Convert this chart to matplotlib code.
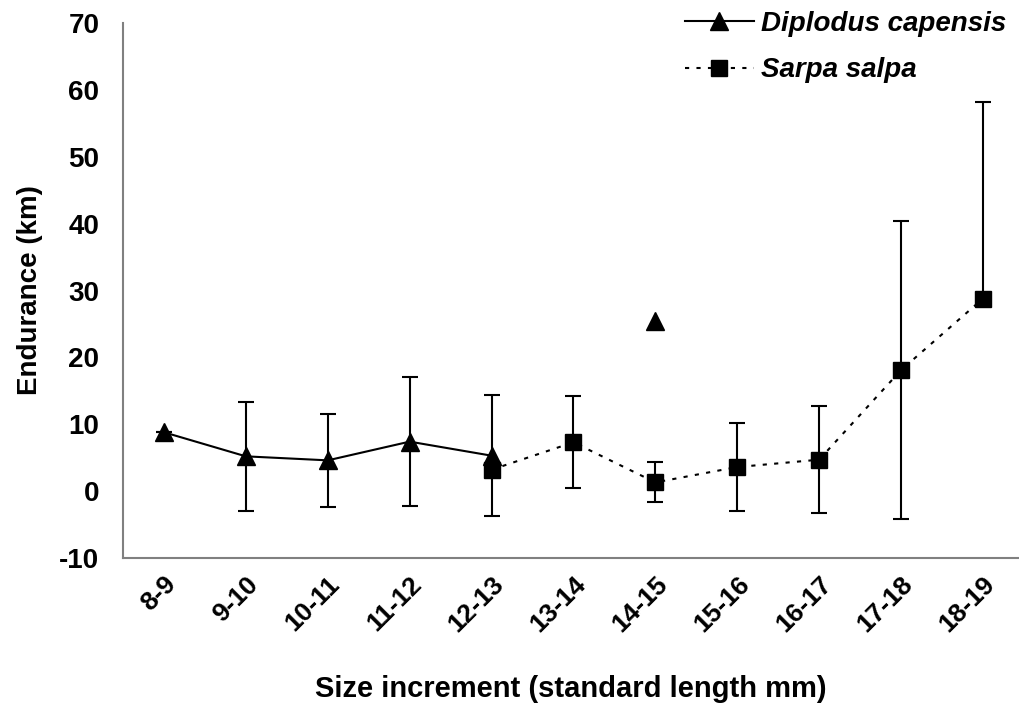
import matplotlib.pyplot as plt
import numpy as np

# size classes (standard length, mm)
sizes = ['8-9', '9-10', '10-11', '11-12', '12-13', '13-14',
         '14-15', '15-16', '16-17', '17-18', '18-19']

# Diplodus capensis: connected run 8-9..12-13, lone point at 14-15
dc_idx = [0, 1, 2, 3, 4]
dc_mean = [8.8, 5.2, 4.6, 7.4, 5.3]
dc_err = [0, 8.2, 7.0, 9.7, 9.0]
dc_lone_idx = [6]
dc_lone_mean = [25.4]

# Sarpa salpa
ss_idx = [4, 5, 6, 7, 8, 9, 10]
ss_mean = [3.2, 7.3, 1.3, 3.6, 4.7, 18.1, 28.8]
ss_err_lo = [0, 6.9, 3.0, 6.6, 8.0, 22.3, 0]
ss_err_hi = [0, 6.9, 3.0, 6.6, 8.0, 22.3, 29.4]

plt.rcParams['font.family'] = ['Liberation Sans', 'DejaVu Sans']
plt.rcParams['axes.unicode_minus'] = False

fig = plt.figure(figsize=(10.19, 7.17), dpi=100)
ax = fig.add_axes([0.1207, 0.2218, 0.8793, 0.746])

# error bars (Diplodus)
ax.errorbar(dc_idx, dc_mean, yerr=dc_err, fmt='none', ecolor='black',
            elinewidth=1.5, capsize=5.5, capthick=1.5, zorder=2)
# error bars (Sarpa)
ax.errorbar(ss_idx, ss_mean, yerr=[ss_err_lo, ss_err_hi], fmt='none',
            ecolor='black', elinewidth=1.5, capsize=5.5, capthick=1.5, zorder=2)

ax.plot(ss_idx, ss_mean, color='black', linestyle=(0, (2, 3.5)), linewidth=1.5,
        marker='s', markersize=11, zorder=3, label='Sarpa salpa')
ax.plot(dc_idx, dc_mean, color='black', linestyle='-', linewidth=1.5,
        marker='^', markersize=13, zorder=4, label='Diplodus capensis')
ax.plot(dc_lone_idx, dc_lone_mean, color='black', linestyle='none',
        marker='^', markersize=13, zorder=4)

ax.set_xlim(-0.5, 10.44)
ax.set_ylim(-10, 70)
ax.set_yticks(np.arange(-10, 71, 10))
ax.set_xticks(range(len(sizes)))
ax.set_xticklabels(sizes, rotation=45, ha='right', rotation_mode='anchor')

ax.tick_params(axis='both', length=0, labelsize=20)
ax.tick_params(axis='x', labelsize=19)
ax.tick_params(axis='y', pad=17)
ax.tick_params(axis='x', pad=10)
for lab in ax.get_xticklabels() + ax.get_yticklabels():
    lab.set_fontweight('bold')

for s in ['top', 'right']:
    ax.spines[s].set_visible(False)
for s in ['left', 'bottom']:
    ax.spines[s].set_color('#808080')
    ax.spines[s].set_linewidth(1.5)

ax.set_xlabel('Size increment (standard length mm)', fontsize=21,
              fontweight='bold', labelpad=28)
ax.set_ylabel('Endurance (km)', fontsize=20, fontweight='bold', labelpad=12)

h, l = ax.get_legend_handles_labels()
leg = fig.legend(h[::-1], l[::-1], loc='upper right', bbox_to_anchor=(1.012, 1.02),
                 frameon=False, handlelength=2.5, handletextpad=0.25,
                 labelspacing=0.75,
                 prop={'size': 20, 'weight': 'bold', 'style': 'italic'})

fig.savefig('out.png', dpi=100)
